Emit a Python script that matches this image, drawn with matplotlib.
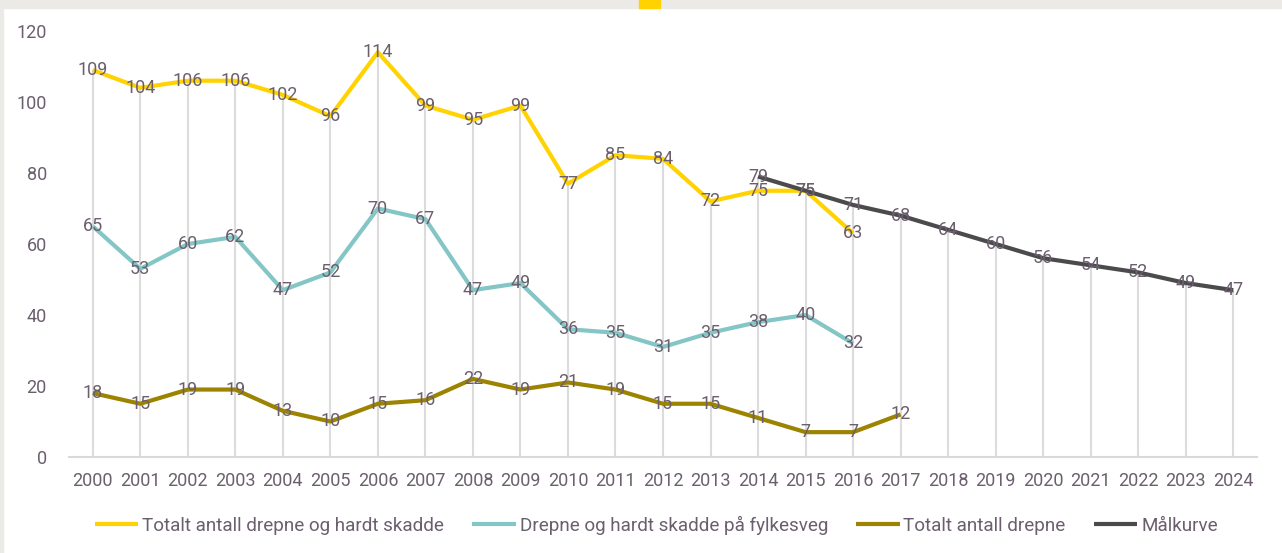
import matplotlib.pyplot as plt
from matplotlib.patches import Rectangle
import numpy as np

years = [str(y) for y in range(2000, 2025)]

total_ks = [109, 104, 106, 106, 102, 96, 114, 99, 95, 99, 77, 85, 84, 72, 75, 75, 63]
fylkesveg = [65, 53, 60, 62, 47, 52, 70, 67, 47, 49, 36, 35, 31, 35, 38, 40, 32]
drepne = [18, 15, 19, 19, 13, 10, 15, 16, 22, 19, 21, 19, 15, 15, 11, 7, 7, 12]
malkurve = [79, 75, 71, 68, 64, 60, 56, 54, 52, 49, 47]
malkurve_start = 14  # index of 2014

names = ['Totalt antall drepne og hardt skadde', 'Drepne og hardt skadde på fylkesveg',
         'Totalt antall drepne', 'Målkurve']
colors = ['#FFD200', '#84C6C6', '#9C8300', '#4B4A4C']

plt.rcParams['font.family'] = ['Roboto', 'DejaVu Sans']
txt_col = '#6B5F6E'
fs = 13

W, H = 1282, 553
fig = plt.figure(figsize=(W / 100, H / 100), dpi=100)
fig.patch.set_facecolor('white')

# frame decorations
fig.patches.append(Rectangle((0, 1 - 8 / H), 1, 8 / H, transform=fig.transFigure,
                             color='#ECEAE6', zorder=0))
fig.patches.append(Rectangle((0, 0), 3 / W, 1, transform=fig.transFigure,
                             color='#ECEAE6', zorder=0))
fig.patches.append(Rectangle((639 / W, 1 - 8 / H), 21 / W, 8 / H, transform=fig.transFigure,
                             color='#FFD200', zorder=1))

ax = fig.add_axes([69 / W, 1 - 457 / H, (1257 - 69) / W, (457 - 31) / H])
ax.set_facecolor('none')

series = [
    (np.arange(len(total_ks)), total_ks),
    (np.arange(len(fylkesveg)), fylkesveg),
    (np.arange(len(drepne)), drepne),
    (np.arange(malkurve_start, malkurve_start + len(malkurve)), malkurve),
]

# drop lines from highest point to axis
tops = {}
for xs, vals in series:
    for x, v in zip(xs, vals):
        tops[x] = max(tops.get(x, 0), v)
for x, v in tops.items():
    ax.vlines(x, 0, v, color='#DCDCDC', lw=1.5, zorder=1)

for (xs, vals), name, c in zip(series, names, colors):
    ax.plot(xs, vals, color=c, lw=3, label=name, zorder=3, solid_capstyle='butt')
for (xs, vals) in series:
    for x, v in zip(xs, vals):
        ax.text(x, v, str(v), ha='center', va='center', fontsize=fs, color=txt_col, zorder=4)

ax.set_xlim(-0.5, len(years) - 0.5)
ax.set_ylim(0, 120)
ax.set_xticks(range(len(years)))
ax.set_xticklabels(years)
ax.set_yticks(range(0, 121, 20))
ax.tick_params(axis='both', length=0, labelsize=fs, labelcolor=txt_col)
ax.tick_params(axis='x', pad=11)
ax.tick_params(axis='y', pad=16)
for s in ['top', 'right', 'left']:
    ax.spines[s].set_visible(False)
ax.spines['bottom'].set_color('#D9D9D9')
ax.spines['bottom'].set_linewidth(1.5)

leg = fig.legend(loc='center', bbox_to_anchor=(0.512, 1 - 525 / H), ncol=4, frameon=False,
                 fontsize=13.6, handlelength=2.3, handletextpad=0.2, columnspacing=1.5)
for t in leg.get_texts():
    t.set_color(txt_col)

fig.savefig('out.png', dpi=100)
